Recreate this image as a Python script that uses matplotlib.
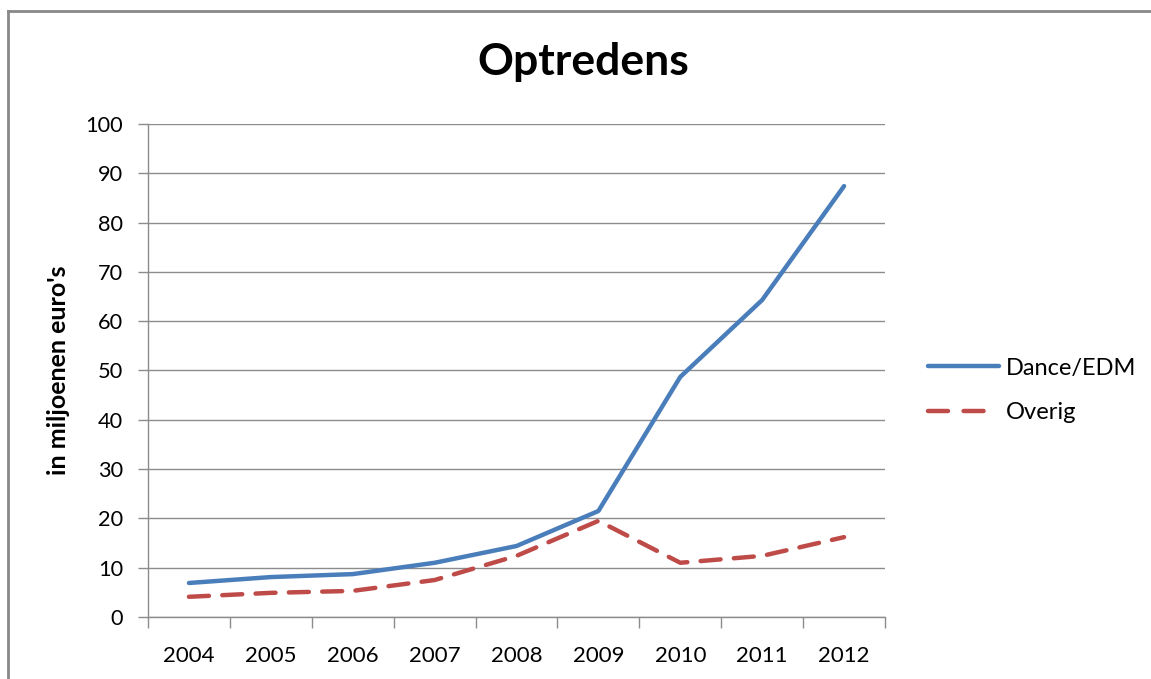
import matplotlib.pyplot as plt
import numpy as np
from matplotlib.lines import Line2D

plt.rcParams["font.family"] = ["Lato", "DejaVu Sans"]

years = ["2004", "2005", "2006", "2007", "2008", "2009", "2010", "2011", "2012"]
dance_edm = [6.9, 8.1, 8.7, 11.0, 14.4, 21.5, 48.7, 64.3, 87.4]
overig = [4.1, 4.9, 5.3, 7.5, 12.4, 19.5, 11.0, 12.4, 16.2]

blue = "#4A7EBB"
red = "#BE4B48"
grid_gray = "#8C8C8C"

fig = plt.figure(figsize=(11.51, 6.79), dpi=100)
ax = fig.add_axes([0.1286, 0.0913, 0.6403, 0.7261])

x = np.arange(len(years))
ax.plot(x, dance_edm, color=blue, lw=3.2, solid_capstyle="round",
        solid_joinstyle="round", label="Dance/EDM")
ax.plot(x, overig, color=red, lw=3.2, dashes=(4.5, 3), dash_capstyle="round",
        label="Overig")

ax.set_xlim(-0.5, len(years) - 0.5)
ax.set_ylim(0, 100)
ax.set_yticks(range(0, 101, 10))
ax.set_xticks(x)
ax.set_xticklabels(years)
ax.set_xticks(np.arange(-0.5, len(years)), minor=True)
ax.tick_params(axis="x", which="major", length=0, pad=21, labelsize=16,
               colors="black")
ax.tick_params(axis="x", which="minor", length=8, width=1, color=grid_gray,
               direction="out")
ax.tick_params(axis="y", length=7, width=1, color=grid_gray, pad=11,
               labelsize=15.7)
ax.yaxis.grid(True, color=grid_gray, lw=1)
ax.set_axisbelow(True)
for side in ("top", "right"):
    ax.spines[side].set_visible(False)
for side in ("left", "bottom"):
    ax.spines[side].set_color(grid_gray)
    ax.spines[side].set_linewidth(1)

ax.set_ylabel("in miljoenen euro's", fontsize=18, fontweight="bold")
ax.yaxis.set_label_coords(-0.106, 0.5)
fig.text(0.507, 0.909, "Optredens", ha="center", va="center",
         fontsize=32, fontweight="bold")

leg = fig.legend(loc="center left", bbox_to_anchor=(0.788, 0.425), frameon=False,
                 fontsize=17, handlelength=3.0, handletextpad=0.3, labelspacing=1.0)
leg.get_lines()[1].set_dashes((4.5, 3.5))

# chart border (top and left edges visible)
fig.add_artist(Line2D([0.007, 1.0], [0.984, 0.984], transform=fig.transFigure,
                      color="#888888", lw=2))
fig.add_artist(Line2D([0.007, 0.007], [0.0, 0.984], transform=fig.transFigure,
                      color="#888888", lw=2))

fig.savefig("out.png", dpi=100)
